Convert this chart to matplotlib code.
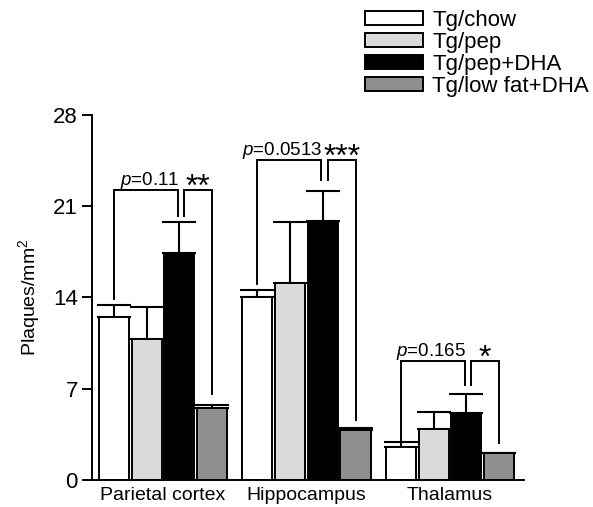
import numpy as np
import matplotlib
matplotlib.use('Agg')
import matplotlib.pyplot as plt
from matplotlib.patches import Patch

plt.rcParams['font.family'] = ['Liberation Sans', 'DejaVu Sans']
plt.rcParams['mathtext.fontset'] = 'custom'
plt.rcParams['mathtext.rm'] = 'Liberation Sans'
plt.rcParams['mathtext.it'] = 'Liberation Sans:italic'

regions = ['Parietal cortex', 'Hippocampus', 'Thalamus']
groups = ['Tg/chow', 'Tg/pep', 'Tg/pep+DHA', 'Tg/low fat+DHA']
colors = ['white', '#dadada', 'black', '#8f8f8f']

chow = [12.5, 14.0, 2.55]
pep = [10.8, 15.1, 3.9]
pep_dha = [17.4, 19.9, 5.1]
lowfat_dha = [5.5, 3.85, 2.05]
means = [chow, pep, pep_dha, lowfat_dha]

chow_err = [0.9, 0.6, 0.4]
pep_err = [2.45, 4.65, 1.3]
pep_dha_err = [2.4, 2.3, 1.5]
lowfat_dha_err = [0.22, 0.12, 0.05]
errs = [chow_err, pep_err, pep_dha_err, lowfat_dha_err]

# significance brackets (chow vs pep+DHA, pep+DHA vs low fat+DHA)
bracket_top = [22.25, 24.55, 9.13]
chow_leg = [13.9, 15.0, 3.1]
dha_leg = [20.25, 23.0, 7.3]
lowfat_leg = [6.6, 4.6, 2.8]
p_labels = ['0.11', '0.0513', '0.165']
stars = ['**', '***', '*']

fig = plt.figure(figsize=(5.93, 5.07), dpi=100)
ax = fig.add_axes([0.1546, 0.0533, 0.729, 0.72])

x = np.arange(len(regions))
pitch = 0.228
width = 0.21
offsets = (np.arange(len(groups)) - 1.5) * pitch

for i in range(len(groups)):
    xs = x + offsets[i]
    ax.bar(xs, means[i], width=width, color=colors[i], edgecolor='black',
           linewidth=1.4, zorder=2)
    ax.errorbar(xs, means[i], yerr=[np.zeros(len(regions)), errs[i]], fmt='none',
                ecolor='black', elinewidth=1.5, capsize=12.5, capthick=1.5, zorder=1)

for j in range(len(regions)):
    xw = x[j] + offsets[0]
    xb = x[j] + offsets[2]
    xg = x[j] + offsets[3]
    yt = bracket_top[j]
    ax.plot([xw, xw, xb - 0.01, xb - 0.01], [chow_leg[j], yt, yt, dha_leg[j]],
            color='black', lw=1.4, solid_joinstyle='miter')
    ax.plot([xb + 0.035, xb + 0.035, xg, xg], [dha_leg[j], yt, yt, lowfat_leg[j]],
            color='black', lw=1.4, solid_joinstyle='miter')
    ax.annotate(r'$\mathit{p}$=' + p_labels[j], xy=(xb, yt), xytext=(0, 3.5),
                textcoords='offset points', ha='right', va='baseline', fontsize=13.5)
    ax.annotate(stars[j], xy=(x[j] + 0.245, yt), xytext=(0, -4.5),
                textcoords='offset points', ha='center', va='baseline', fontsize=23)

ax.set_ylim(0, 28)
ax.set_xlim(-0.497, 2.516)
ax.set_yticks([0, 7, 14, 21, 28])
ax.set_xticks(x)
ax.set_xticklabels(regions, fontsize=14)
ax.tick_params(axis='y', labelsize=16, length=7, width=1.4, pad=3)
ax.tick_params(axis='x', length=0, pad=5)
ax.set_ylabel(r'Plaques/mm$^\mathregular{2}$', fontsize=14, labelpad=8)
for s in ['top', 'right']:
    ax.spines[s].set_visible(False)
for s in ['left', 'bottom']:
    ax.spines[s].set_linewidth(1.4)

handles = [Patch(facecolor=c, edgecolor='black', linewidth=1.4) for c in colors]
fig.legend(handles, groups, loc='upper left', bbox_to_anchor=(365 / 593, 1 - 10 / 507),
           frameon=False, fontsize=16, handlelength=2.6, handleheight=0.55,
           handletextpad=0.42, labelspacing=0.04, borderpad=0, borderaxespad=0)

fig.savefig('out.png', dpi=100)
